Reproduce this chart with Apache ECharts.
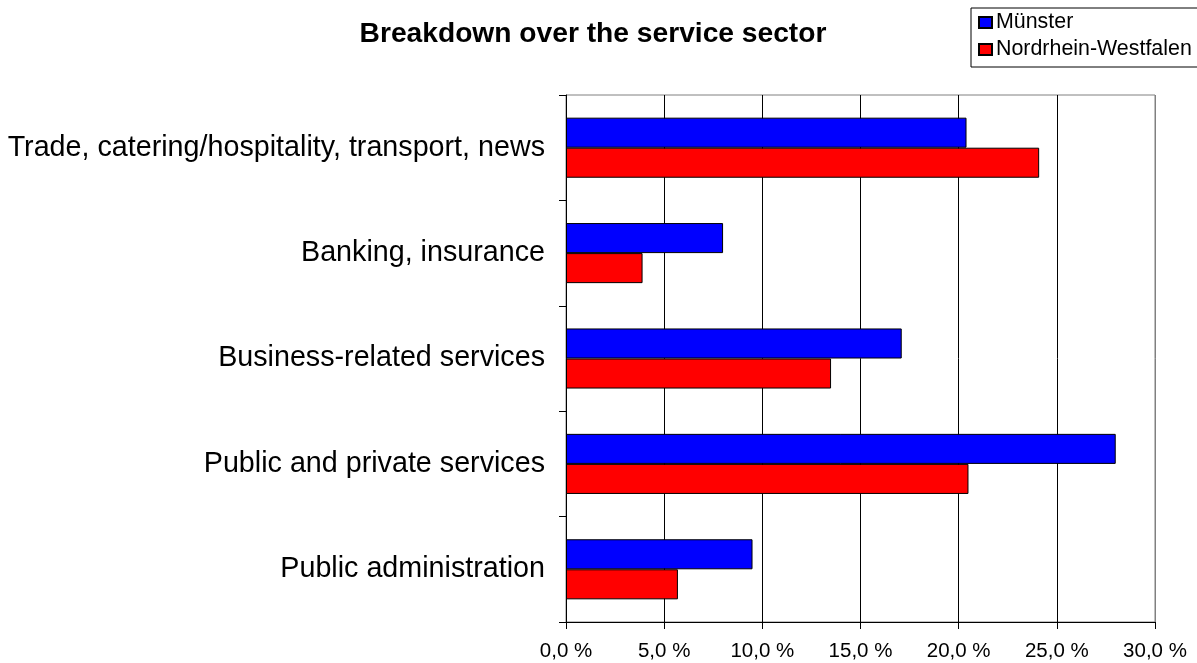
<!DOCTYPE html>
<html>
<head>
<meta charset="utf-8">
<script src="https://cdn.jsdelivr.net/npm/echarts@6/dist/echarts.min.js"></script>
<style>
  html, body { margin: 0; padding: 0; background: #ffffff; }
  #chart { width: 1197px; height: 663px; }
</style>
</head>
<body>
<div id="chart"></div>
<script>
const categories = [
  'Trade, catering/hospitality, transport, news',
  'Banking, insurance',
  'Business-related services',
  'Public and private services',
  'Public administration'
];
const seriesNames = ['Münster', 'Nordrhein-Westfalen'];
const muensterValues = [20.4, 8.0, 17.1, 28.0, 9.5];
const nrwValues = [24.1, 3.9, 13.5, 20.5, 5.7];
const xTicks = { min: 0, max: 30, interval: 5 };
const titleText = 'Breakdown over the service sector';

const FONT = '"Liberation Sans", Arial, Helvetica, sans-serif';
const chart = echarts.init(document.getElementById('chart'), null, { renderer: 'canvas' });

chart.setOption({
  backgroundColor: '#ffffff',
  animation: false,
  title: {
    text: titleText,
    left: 593,
    top: 20,
    padding: 0,
    textAlign: 'center',
    textStyle: { fontFamily: FONT, fontSize: 28.2, fontWeight: 'bold', color: '#000000' }
  },
  legend: {
    data: seriesNames,
    orient: 'vertical',
    left: 971,
    top: 8,
    padding: [4, 25, 7, 7],
    itemGap: 6,
    itemWidth: 13,
    itemHeight: 11,
    icon: 'rect',
    borderColor: '#000000',
    borderWidth: 1,
    textStyle: { fontFamily: FONT, fontSize: 21.4, color: '#000000', padding: [0, 0, 0, -1] }
  },
  grid: {
    left: 566,
    right: 42,
    top: 95,
    bottom: 41,
    show: true,
    borderColor: '#808080',
    borderWidth: 1,
    backgroundColor: 'transparent'
  },
  xAxis: {
    type: 'value',
    min: xTicks.min,
    max: xTicks.max,
    interval: xTicks.interval,
    axisLine: { show: true, lineStyle: { color: '#000000', width: 1 } },
    axisTick: { show: true, length: 7, lineStyle: { color: '#000000' } },
    axisLabel: {
      margin: 19,
      fontFamily: FONT,
      fontSize: 20.5,
      color: '#000000',
      formatter: function (v) { return v.toFixed(1).replace('.', ',') + ' %'; }
    },
    splitLine: {
      show: true,
      lineStyle: { color: ['#000000', '#000000', '#000000', '#000000', '#000000', '#000000', '#808080'], width: 1 }
    }
  },
  yAxis: {
    type: 'category',
    data: categories,
    inverse: true,
    axisLine: { show: true, lineStyle: { color: '#000000', width: 1 } },
    axisTick: { show: true, length: 7, lineStyle: { color: '#000000' } },
    axisLabel: { margin: 21, fontFamily: FONT, fontSize: 28.7, color: '#000000' },
    splitLine: { show: false }
  },
  series: [
    {
      name: seriesNames[0],
      type: 'bar',
      data: muensterValues,
      barGap: '0%',
      barCategoryGap: '43%',
      itemStyle: { color: '#0000ff', borderColor: '#000000', borderWidth: 1 }
    },
    {
      name: seriesNames[1],
      type: 'bar',
      data: nrwValues,
      barGap: '0%',
      barCategoryGap: '43%',
      itemStyle: { color: '#ff0000', borderColor: '#000000', borderWidth: 1 }
    }
  ]
});
</script>
</body>
</html>
